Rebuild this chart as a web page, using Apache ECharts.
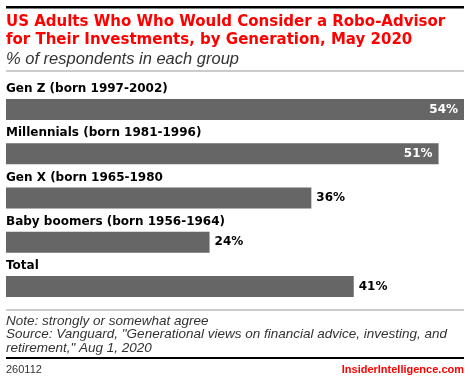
<!DOCTYPE html>
<html>
<head>
<meta charset="utf-8">
<script src="https://cdn.jsdelivr.net/npm/echarts@6/dist/echarts.min.js"></script>
<style>
html,body{margin:0;padding:0;background:#fff;}
#chart{width:470px;height:379px;}
</style>
</head>
<body>
<div id="chart"></div>
<script>
const categories = [
  'Gen Z (born 1997-2002)',
  'Millennials (born 1981-1996)',
  'Gen X (born 1965-1980',
  'Baby boomers (born 1956-1964)',
  'Total'
];
const values = [54, 51, 36, 24, 41];

const titleText = 'US Adults Who Who Would Consider a Robo-Advisor\nfor Their Investments, by Generation, May 2020';
const subtitleText = '% of respondents in each group';
const noteLines = [
  'Note: strongly or somewhat agree',
  'Source: Vanguard, "Generational views on financial advice, investing, and',
  'retirement," Aug 1, 2020'
];
const chartId = '260112';
const brand = 'InsiderIntelligence.com';

const FONT = '"Liberation Sans", Arial, sans-serif';
const WIDE = '"DejaVu Sans", sans-serif';
const chart = echarts.init(document.getElementById('chart'), null, {renderer: 'canvas'});

const barData = values.map(v => {
  const inside = v >= 45;
  return {
    value: v,
    label: inside
      ? {position: 'insideRight', distance: 6, color: '#fff'}
      : {position: 'right', distance: 5, color: '#000'}
  };
});

const option = {
  animation: false,
  backgroundColor: '#fff',
  title: [{
    text: titleText,
    left: 6, top: 13,
    padding: 0,
    textStyle: {color: '#ff0000', fontFamily: WIDE, fontWeight: 'bold', fontSize: 15, lineHeight: 18}
  }, {
    text: subtitleText,
    left: 6, top: 51,
    padding: 0,
    textStyle: {color: '#333', fontFamily: FONT, fontStyle: 'italic', fontWeight: 'normal', fontSize: 16.5}
  }],
  grid: {left: 6, right: 6, top: 87.4, height: 221.2, containLabel: false},
  xAxis: {
    type: 'value', min: 0, max: 54, show: false
  },
  yAxis: {
    type: 'category', data: categories, inverse: true, show: false
  },
  series: [{
    type: 'bar',
    data: barData,
    barWidth: 21,
    itemStyle: {color: '#666666'},
    label: {
      show: true, formatter: '{c}%',
      fontFamily: WIDE, fontWeight: 'bold', fontSize: 12
    },
    z: 2
  }, {
    type: 'bar',
    data: values,
    barWidth: 21,
    barGap: '-100%',
    itemStyle: {color: 'rgba(0,0,0,0)'},
    label: {
      show: true,
      position: [0, -10],
      verticalAlign: 'middle',
      align: 'left',
      formatter: p => categories[p.dataIndex],
      color: '#000', fontFamily: WIDE, fontWeight: 'bold', fontSize: 12
    },
    silent: true,
    z: 3
  }],
  graphic: [
    {type: 'rect', shape: {x: 6, y: 6, width: 458, height: 2.5}, style: {fill: '#000'}},
    {type: 'rect', shape: {x: 6, y: 70.5, width: 458, height: 1}, style: {fill: '#999'}},
    {type: 'rect', shape: {x: 6, y: 309.5, width: 458, height: 1}, style: {fill: '#999'}},
    {type: 'text', left: 6, top: 314, style: {text: noteLines.join('\n'), fill: '#333', font: 'italic 13.5px ' + FONT, lineHeight: 13.5}},
    {type: 'rect', shape: {x: 6, y: 357, width: 458, height: 2}, style: {fill: '#000'}},
    {type: 'text', left: 6, top: 364, style: {text: chartId, fill: '#333', font: '11px ' + FONT}},
    {type: 'text', right: 6, top: 364, style: {text: brand, fill: '#ff0000', font: 'bold 11px ' + FONT}}
  ]
};
chart.setOption(option);
</script>
</body>
</html>
